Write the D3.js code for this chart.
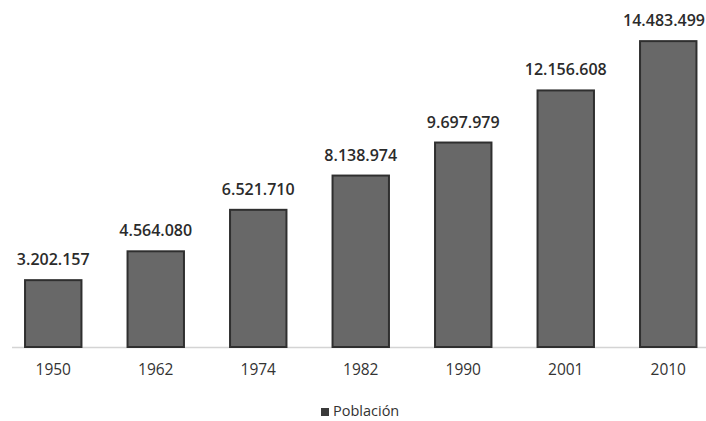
<!DOCTYPE html>
<html>
<head>
<meta charset="utf-8">
<script src="https://cdn.jsdelivr.net/npm/d3@7"></script>
<style>
  html, body { margin: 0; padding: 0; background: #fff; }
  svg { display: block; font-family: "Open Sans", "DejaVu Sans", sans-serif; }
</style>
</head>
<body>
<svg id="chart" width="706" height="421"></svg>
<script>
// Population by census year
const years = ["1950", "1962", "1974", "1982", "1990", "2001", "2010"];
const population = [3202157, 4564080, 6521710, 8138974, 9697979, 12156608, 14483499];
const seriesName = "Población";

const svg = d3.select("#chart");
const W = 706, H = 421;
const baseline = 347;

const x = d3.scaleBand()
  .domain(years)
  .range([2, 719.5])
  .paddingInner(0.43)
  .paddingOuter(0.215);

const y = d3.scaleLinear()
  .domain([0, 16000000])
  .range([baseline, 8]);

const fmt = v => d3.format(",")(v).replace(/,/g, ".");

// baseline axis
svg.append("line")
  .attr("x1", 12).attr("x2", W)
  .attr("y1", baseline + 0.5).attr("y2", baseline + 0.5)
  .attr("stroke", "#d4d4d4").attr("stroke-width", 1.5);

// bars
svg.append("g").selectAll("rect")
  .data(population)
  .join("rect")
  .attr("x", (d, i) => x(years[i]) + 1)
  .attr("y", d => y(d) + 1)
  .attr("width", x.bandwidth() - 2)
  .attr("height", d => baseline - y(d) - 1)
  .attr("fill", "#686868")
  .attr("stroke", "#2f2f2f")
  .attr("stroke-width", 2);

// value labels, kept inside the right edge of the chart
svg.append("g").selectAll("text")
  .data(population)
  .join("text")
  .attr("x", (d, i) => x(years[i]) + x.bandwidth() / 2)
  .attr("y", d => y(d) - 14)
  .attr("text-anchor", "middle")
  .attr("font-size", 16)
  .attr("font-weight", 600)
  .attr("fill", "#2b2b2b")
  .text(d => fmt(d))
  .each(function () {
    const b = this.getBBox();
    if (b.x + b.width > W - 1) {
      d3.select(this)
        .attr("text-anchor", "end")
        .attr("x", W - 1);
    }
  });

// category axis labels
const xAxis = d3.axisBottom(x).tickSize(0).tickPadding(17);
const gx = svg.append("g")
  .attr("transform", `translate(0,${baseline})`)
  .call(xAxis);
gx.select(".domain").remove();
gx.selectAll("text")
  .attr("font-size", 15.5)
  .attr("font-family", "\"Open Sans\", sans-serif")
  .attr("fill", "#333");

// legend
const lg = svg.append("g").attr("transform", "translate(321,416)");
lg.append("rect")
  .attr("x", 0).attr("y", -8)
  .attr("width", 8).attr("height", 8)
  .attr("fill", "#3a3a3a");
lg.append("text")
  .attr("x", 12).attr("y", 0)
  .attr("font-size", 14.5)
  .attr("fill", "#333")
  .text(seriesName);
</script>
</body>
</html>
